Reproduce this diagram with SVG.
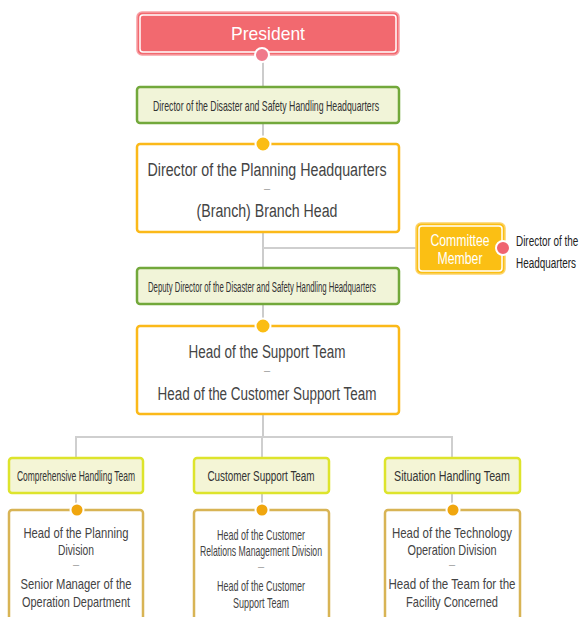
<svg xmlns="http://www.w3.org/2000/svg" width="585" height="617" viewBox="0 0 585 617">
<style>
text{font-family:"Liberation Sans",Arial,sans-serif;text-anchor:middle}
.conn{stroke:#999;stroke-width:1;fill:none}
.branch{stroke:#cfcfcf;stroke-width:2;fill:none}
.green{fill:#f1f4d8;stroke:#72a83b;stroke-width:2.5}
.orange{fill:#fff;stroke:#fbb919;stroke-width:2.5}
.team{fill:#f4f5d6;stroke:#dde42c;stroke-width:2.5}
.sub{fill:#fff;stroke:#d8b455;stroke-width:2.5}
.lbl{fill:#333;font-size:15px}
.big{fill:#444;font-size:18px}
.mid{fill:#444;font-size:15px}
.dash{fill:#999;font-size:11px}
.dotR{fill:#f07a8b;stroke:#fff;stroke-width:2}
.dotO{fill:#fbbd14;stroke:#fff;stroke-width:2}
.dotT{fill:#f0a60e;stroke:#fff;stroke-width:2}
</style>
<rect width="585" height="617" fill="#fff"/>
<g id="connectors">
<line class="conn" x1="263" y1="55" x2="263" y2="87"/>
<line class="conn" x1="263" y1="123" x2="263" y2="144"/>
<line class="conn" x1="263" y1="232" x2="263" y2="268"/>
<line class="branch" x1="263" y1="248" x2="416" y2="248"/>
<line class="conn" x1="263" y1="304" x2="263" y2="326"/>
<line class="conn" x1="263" y1="414" x2="263" y2="437"/>
<polyline class="branch" points="76,458 76,437 452,437 452,458"/>
<line class="branch" x1="262" y1="437" x2="262" y2="457"/>
<line class="conn" x1="76" y1="493" x2="76" y2="510"/>
<line class="conn" x1="262" y1="493" x2="262" y2="510"/>
<line class="conn" x1="452" y1="493" x2="452" y2="510"/>
</g>
<g id="president">
<rect x="137" y="12" width="262" height="43" rx="5" fill="#f2696f" stroke="#f7a0a5" stroke-width="1.5"/>
<rect x="140" y="15" width="256" height="37" rx="3" fill="none" stroke="#fff" stroke-width="1.5"/>
<text x="268" y="40" font-size="19" fill="#fff" textLength="74" lengthAdjust="spacingAndGlyphs">President</text>
<circle class="dotR" cx="262" cy="55" r="7"/>
</g>
<g id="director-disaster">
<rect class="green" x="137" y="87" width="262" height="36" rx="3"/>
<text class="lbl" x="266" y="111" textLength="226" lengthAdjust="spacingAndGlyphs">Director of the Disaster and Safety Handling Headquarters</text>
</g>
<g id="director-planning">
<rect class="orange" x="137" y="144" width="262" height="88" rx="3"/>
<circle class="dotO" cx="263" cy="144" r="7.5"/>
<text class="big" x="267" y="176" textLength="239" lengthAdjust="spacingAndGlyphs">Director of the Planning Headquarters</text>
<text class="dash" x="267" y="192">–</text>
<text class="big" x="267" y="217" textLength="141" lengthAdjust="spacingAndGlyphs">(Branch) Branch Head</text>
</g>
<g id="committee">
<rect x="416" y="223" width="89" height="51" rx="5" fill="#fbbf14" stroke="#fcd36a" stroke-width="1.5"/>
<rect x="419" y="226" width="83" height="45" rx="3" fill="none" stroke="#fff" stroke-width="1.5"/>
<text x="460" y="246" font-size="17" fill="#fff" textLength="59" lengthAdjust="spacingAndGlyphs">Committee</text>
<text x="460" y="264" font-size="17" fill="#fff" textLength="45" lengthAdjust="spacingAndGlyphs">Member</text>
<circle cx="503" cy="248" r="7" fill="#ef6470" stroke="#fff" stroke-width="2"/>
<text transform="translate(516,246) scale(0.64,1)" font-size="15.5" fill="#222" style="text-anchor:start">Director of the</text>
<text transform="translate(516,268) scale(0.64,1)" font-size="15.5" fill="#222" style="text-anchor:start">Headquarters</text>
</g>
<g id="deputy-director">
<rect class="green" x="137" y="268" width="262" height="36" rx="3"/>
<text class="lbl" transform="translate(262,292) scale(0.6,1)" x="0" y="0" font-size="13.5" textLength="380" lengthAdjust="spacingAndGlyphs">Deputy Director of the Disaster and Safety Handling Headquarters</text>
</g>
<g id="support-team">
<rect class="orange" x="137" y="326" width="262" height="88" rx="3"/>
<circle class="dotO" cx="263" cy="326" r="7.5"/>
<text class="big" x="267" y="358" textLength="157" lengthAdjust="spacingAndGlyphs">Head of the Support Team</text>
<text class="dash" x="267" y="374">–</text>
<text class="big" x="267" y="400" textLength="219" lengthAdjust="spacingAndGlyphs">Head of the Customer Support Team</text>
</g>
<g id="comprehensive-team">
<rect class="team" x="9" y="458" width="134" height="35" rx="3"/>
<text class="lbl" transform="translate(76,481) scale(0.6,1)" textLength="197" lengthAdjust="spacingAndGlyphs">Comprehensive Handling Team</text>
</g>
<g id="customer-team">
<rect class="team" x="194" y="458" width="135" height="35" rx="3"/>
<text class="lbl" transform="translate(261,481) scale(0.65,1)" textLength="165" lengthAdjust="spacingAndGlyphs">Customer Support Team</text>
</g>
<g id="situation-team">
<rect class="team" x="385" y="458" width="135" height="35" rx="3"/>
<text class="lbl" transform="translate(452,481) scale(0.67,1)" textLength="173" lengthAdjust="spacingAndGlyphs">Situation Handling Team</text>
</g>
<g id="comprehensive-members">
<rect class="sub" x="9" y="510" width="134" height="120" rx="3"/>
<circle class="dotT" cx="77" cy="510" r="6.5"/>
<text class="mid" x="76" y="538" textLength="105" lengthAdjust="spacingAndGlyphs">Head of the Planning</text>
<text class="mid" x="76" y="555" textLength="36" lengthAdjust="spacingAndGlyphs">Division</text>
<text class="dash" x="76" y="568">–</text>
<text class="mid" x="76" y="589" textLength="111" lengthAdjust="spacingAndGlyphs">Senior Manager of the</text>
<text class="mid" x="76" y="607" textLength="108" lengthAdjust="spacingAndGlyphs">Operation Department</text>
</g>
<g id="customer-members">
<rect class="sub" x="194" y="510" width="135" height="120" rx="3"/>
<circle class="dotT" cx="262" cy="510" r="6.5"/>
<text class="mid" x="261" y="540" font-size="13.5" textLength="88" lengthAdjust="spacingAndGlyphs">Head of the Customer</text>
<text class="mid" x="261" y="556" font-size="13.5" textLength="122" lengthAdjust="spacingAndGlyphs">Relations Management Division</text>
<text class="dash" x="261" y="570">–</text>
<text class="mid" x="261" y="591" font-size="13.5" textLength="88" lengthAdjust="spacingAndGlyphs">Head of the Customer</text>
<text class="mid" x="261" y="608" font-size="13.5" textLength="56" lengthAdjust="spacingAndGlyphs">Support Team</text>
</g>
<g id="situation-members">
<rect class="sub" x="385" y="510" width="135" height="120" rx="3"/>
<circle class="dotT" cx="453" cy="510" r="6.5"/>
<text class="mid" x="452" y="538" textLength="120" lengthAdjust="spacingAndGlyphs">Head of the Technology</text>
<text class="mid" x="452" y="555" textLength="89" lengthAdjust="spacingAndGlyphs">Operation Division</text>
<text class="dash" x="452" y="568">–</text>
<text class="mid" x="452" y="589" textLength="127" lengthAdjust="spacingAndGlyphs">Head of the Team for the</text>
<text class="mid" x="452" y="607" textLength="92" lengthAdjust="spacingAndGlyphs">Facility Concerned</text>
</g>
</svg>
